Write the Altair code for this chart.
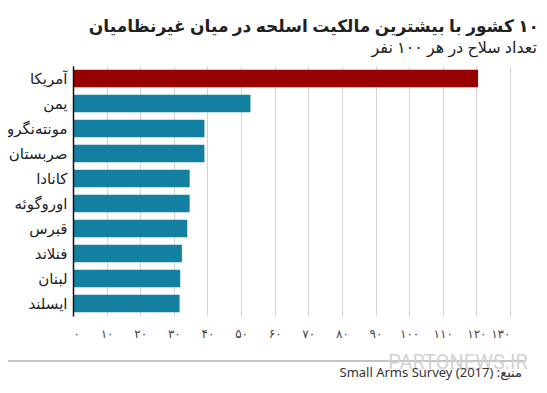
import json
import altair as alt
import pandas as pd

# ---- data ----
countries = ["آمریکا", "یمن", "مونته‌نگرو", "صربستان", "کانادا",
             "اوروگوئه", "قبرس", "فنلاند", "لبنان", "ایسلند"]
values = [120.5, 52.8, 39.1, 39.1, 34.7, 34.7, 34.0, 32.4, 31.9, 31.7]
groups = ["us", "other", "other", "other", "other",
          "other", "other", "other", "other", "other"]
group_names = ["us", "other"]
group_colors = ["#990000", "#1380A1"]
tick_values = [0, 10, 20, 30, 40, 50, 60, 70, 80, 90, 100, 110, 120, 130]
tick_labels = ["۰", "۱۰", "۲۰", "۳۰", "۴۰", "۵۰", "۶۰", "۷۰", "۸۰", "۹۰",
               "۱۰۰", "۱۱۰", "۱۲۰", "۱۳۰"]
title_text = ["\u200f۱۰ کشور با بیشترین مالکیت اسلحه در میان غیرنظامیان"]
subtitle_text = ["تعداد سلاح در هر ۱۰۰ نفر"]
source_text = ["\u202bمنبع: Small Arms Survey (2017)\u202c"]
watermark_text = ["PARTONEWS.IR"]

FONT = "Noto Sans, DejaVu Sans, sans-serif"

df = pd.DataFrame({"country": countries, "value": values, "group": groups})

label_expr = json.dumps(tick_labels, ensure_ascii=False) + "[round(datum.value / 10)]"

bars = alt.Chart(df).mark_bar().encode(
    y=alt.Y("country:N", sort=countries, title=None,
            scale=alt.Scale(paddingInner=0.3, paddingOuter=0.15),
            axis=alt.Axis(labelFontSize=15, labelColor="#222222", labelPadding=6,
                          ticks=False, domainColor="#111111", domainWidth=1.5,
                          labelFont=FONT, zindex=1)),
    x=alt.X("value:Q", title=None,
            scale=alt.Scale(domain=[0, 130], nice=False),
            axis=alt.Axis(values=tick_values, labelExpr=label_expr, grid=True,
                          gridColor="#d4d4d4", gridWidth=1, ticks=False, domain=False,
                          labelPadding=12, labelFontSize=12, labelColor="#444444",
                          labelFont=FONT)),
    color=alt.Color("group:N", scale=alt.Scale(domain=group_names, range=group_colors),
                    legend=None),
)

title = alt.Chart(pd.DataFrame({"t": title_text})).mark_text(
    align="right", baseline="alphabetic", fontSize=17, fontWeight="bold",
    color="#222222", font=FONT,
).encode(x=alt.value(466), y=alt.value(-34), text="t:N")

subtitle = alt.Chart(pd.DataFrame({"t": subtitle_text})).mark_text(
    align="right", baseline="alphabetic", fontSize=16, color="#222222", font=FONT,
).encode(x=alt.value(464), y=alt.value(-13), text="t:N")

sep = alt.Chart(pd.DataFrame({"t": [0]})).mark_rule(
    color="#c4c4c4", strokeWidth=2,
).encode(x=alt.value(-65), x2=alt.value(452), y=alt.value(295))

watermark = alt.Chart(pd.DataFrame({"t": watermark_text})).mark_text(
    align="center", baseline="alphabetic", fontSize=20, color="#d2d2d2",
    font="Roboto",
).encode(x=alt.value(385), y=alt.value(303), text="t:N")

source = alt.Chart(pd.DataFrame({"t": source_text})).mark_text(
    align="right", baseline="alphabetic", fontSize=13, color="#333333", font=FONT,
).encode(x=alt.value(449), y=alt.value(311), text="t:N")

chart = alt.layer(bars, title, subtitle, sep, watermark, source).properties(
    width=437, height=250,
    padding={"left": 65, "top": 58, "right": 29, "bottom": 69},
    autosize=alt.AutoSizeParams(type="none"),
    background="#ffffff",
).configure_view(stroke=None)

chart.save("out.html", embed_options={"renderer": "svg", "actions": False})
